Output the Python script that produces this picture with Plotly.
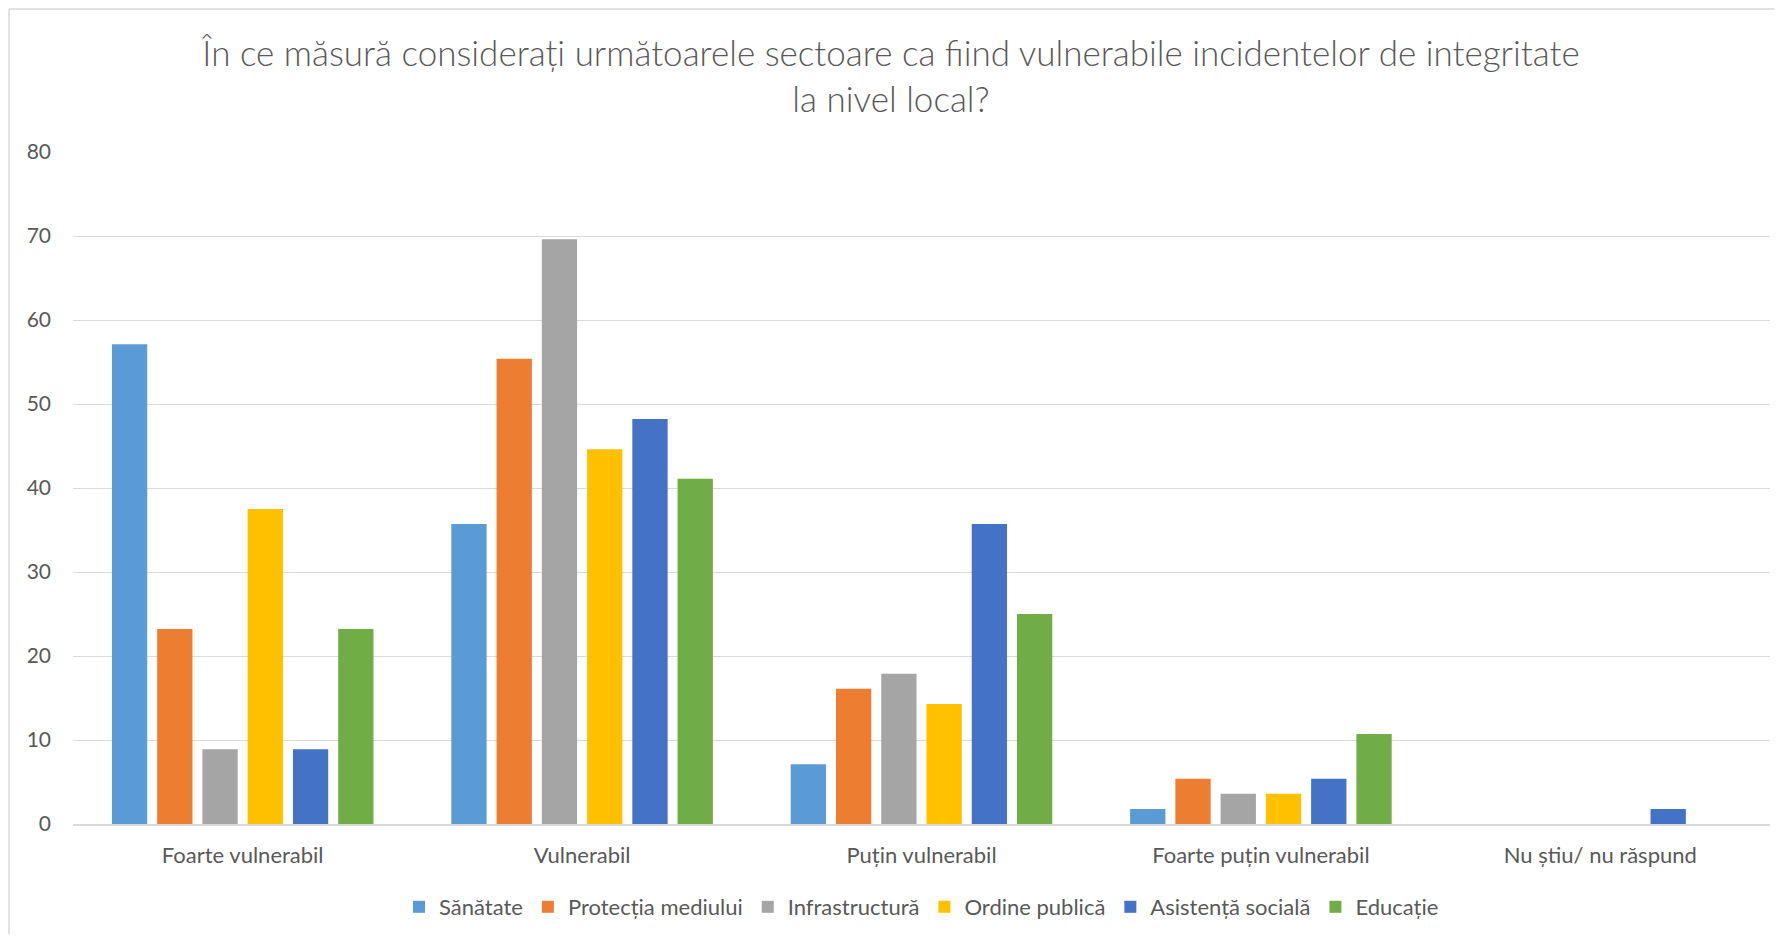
import plotly.graph_objects as go

# --- data ---
categories = ["Foarte vulnerabil", "Vulnerabil", "Puțin vulnerabil",
              "Foarte puțin vulnerabil", "Nu știu/ nu răspund"]
sanatate = [57.1, 35.7, 7.1, 1.8, 0]
protectia_mediului = [23.2, 55.4, 16.1, 5.4, 0]
infrastructura = [8.9, 69.6, 17.9, 3.6, 0]
ordine_publica = [37.5, 44.6, 14.3, 3.6, 0]
asistenta_sociala = [8.9, 48.2, 35.7, 5.4, 1.8]
educatie = [23.2, 41.1, 25.0, 10.7, 0]

series = [
    ("Sănătate", sanatate, "#5B9BD5"),
    ("Protecția mediului", protectia_mediului, "#ED7D31"),
    ("Infrastructură", infrastructura, "#A5A5A5"),
    ("Ordine publică", ordine_publica, "#FFC000"),
    ("Asistență socială", asistenta_sociala, "#4472C4"),
    ("Educație", educatie, "#70AD47"),
]

FONT = "Lato"
GREY = "#595959"

fig = go.Figure()
for name, vals, col in series:
    fig.add_trace(go.Bar(x=categories, y=vals, name=name,
                         marker=dict(color=col, line=dict(width=0))))

# figure sits 8px inside the page (body margin)
W, H = 1766, 926
L, R, T, B = 65, 4, 144, 110
pw, ph = W - L - R, H - T - B

def px_x(p):
    return (p - L) / pw

def px_y(p):
    return (H - B - p) / ph

border = "#D9D9D9"
fig.update_layout(
    width=W, height=H,
    margin=dict(l=L, r=R, t=T, b=B),
    paper_bgcolor="white", plot_bgcolor="white",
    font=dict(family=FONT, color=GREY, size=20),
    title=dict(
        text="În ce măsură considerați următoarele sectoare ca fiind vulnerabile incidentelor de integritate<br>la nivel local?",
        x=0.5, xanchor="center", y=1 - 58 / H, yanchor="middle",
        font=dict(family=FONT, size=35, color=GREY, weight=300),
    ),
    barmode="group", bargap=0.2, bargroupgap=0.22,
    xaxis=dict(showgrid=False, showline=True, linecolor=border, linewidth=1.5,
               ticks="", ticklabelstandoff=11, tickfont=dict(size=22, color=GREY)),
    yaxis=dict(range=[0, 80], dtick=10, showgrid=True, gridcolor=border,
               gridwidth=1, zeroline=False, showline=False, ticks="",
               ticklabelstandoff=21, tickfont=dict(size=21, color=GREY)),
    legend=dict(orientation="h", x=0.5, xanchor="center", y=px_y(899),
                yanchor="middle", font=dict(size=22, color=GREY),
                itemwidth=30, traceorder="normal"),
    showlegend=True,
    shapes=[
        dict(type="line", xref="paper", yref="paper",
             x0=px_x(1), x1=px_x(W), y0=px_y(1), y1=px_y(1),
             line=dict(color=border, width=1.5), layer="below"),
        dict(type="line", xref="paper", yref="paper",
             x0=px_x(1), x1=px_x(1), y0=px_y(1), y1=px_y(H),
             line=dict(color=border, width=1.5), layer="below"),
    ],
)

fig.write_html("out.html")
